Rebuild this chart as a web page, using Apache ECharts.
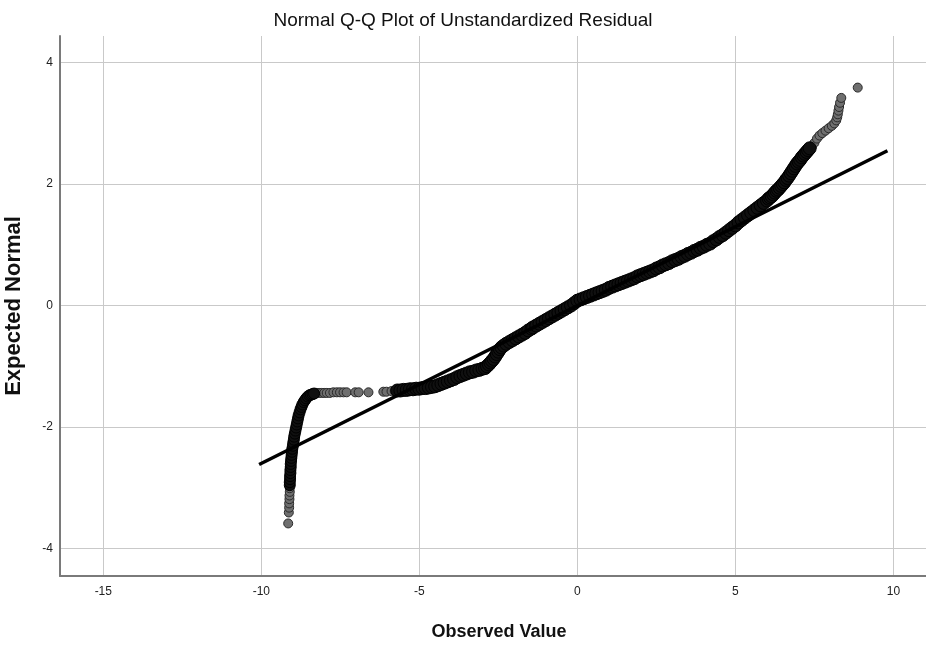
<!DOCTYPE html>
<html>
<head>
<meta charset="utf-8">
<script src="https://cdn.jsdelivr.net/npm/echarts/dist/echarts.min.js"></script>
<style>
html,body{margin:0;padding:0;background:#fff;}
#chart{width:926px;height:646px;}
</style>
</head>
<body>
<div id="chart"></div>
<script>
// ---- Data ----
const titleText = 'Normal Q-Q Plot of Unstandardized Residual';
const xAxisName = 'Observed Value';
const yAxisName = 'Expected Normal';
const xTicks = [-15, -10, -5, 0, 5, 10];
const yTicks = [-4, -2, 0, 2, 4];

// sparse (individually visible) points, lower tail
const tailLow = [
  [-9.15,-3.59],[-9.13,-3.41],[-9.12,-3.33],[-9.12,-3.26],[-9.11,-3.19],
  [-9.11,-3.13],[-9.10,-3.07],[-9.10,-3.01]
];
// dense steep column at the lower end
const denseLow = [
  [-9.10,-2.96],[-9.10,-2.91],[-9.09,-2.86],[-9.09,-2.81],[-9.08,-2.76],[-9.08,-2.71],
  [-9.07,-2.66],[-9.07,-2.61],[-9.06,-2.56],[-9.05,-2.51],[-9.04,-2.46],[-9.03,-2.41],
  [-9.02,-2.36],[-9.00,-2.31],[-8.99,-2.26],[-8.97,-2.21],[-8.96,-2.16],[-8.94,-2.11],
  [-8.92,-2.06],[-8.90,-2.01],[-8.88,-1.96],[-8.86,-1.91],[-8.84,-1.86],[-8.82,-1.81],
  [-8.79,-1.76],[-8.76,-1.71],[-8.73,-1.67],[-8.70,-1.63],[-8.66,-1.59],[-8.62,-1.56],
  [-8.58,-1.53],[-8.53,-1.50],[-8.48,-1.48],[-8.43,-1.47],[-8.38,-1.46],[-8.33,-1.45]
];
// sparse flat stretch
const flatSparse = [
  [-8.25,-1.44],[-8.17,-1.44],[-8.09,-1.44],[-8.01,-1.44],[-7.93,-1.44],[-7.83,-1.44],
  [-7.72,-1.43],[-7.61,-1.43],[-7.51,-1.43],[-7.40,-1.43],[-7.30,-1.43],[-7.03,-1.43],
  [-6.92,-1.43],[-6.61,-1.43],[-6.14,-1.42],[-6.04,-1.42],[-5.88,-1.41],[-5.78,-1.41]
];
// dense main band
const denseMain = [
  [-5.70,-1.40],[-5.60,-1.40],[-5.50,-1.39],[-5.40,-1.39],[-5.30,-1.38],[-5.20,-1.38],
  [-5.10,-1.37],[-5.00,-1.37],[-4.90,-1.36],[-4.80,-1.36],[-4.70,-1.35],[-4.60,-1.34],
  [-4.50,-1.33],[-4.40,-1.31],[-4.30,-1.29],[-4.20,-1.27],[-4.10,-1.25],[-4.00,-1.23],
  [-3.90,-1.21],[-3.80,-1.18],[-3.70,-1.16],[-3.60,-1.14],[-3.50,-1.12],[-3.40,-1.10],
  [-3.30,-1.09],[-3.20,-1.07],[-3.10,-1.06],[-3.00,-1.04],[-2.92,-1.03],[-2.86,-1.00],
  [-2.80,-0.97],[-2.75,-0.94],[-2.70,-0.91],[-2.65,-0.88],[-2.60,-0.84],[-2.55,-0.80],
  [-2.50,-0.76],[-2.45,-0.72],[-2.40,-0.69],[-2.33,-0.66],[-2.25,-0.63],[-2.15,-0.60],
  [-2.05,-0.57],[-1.95,-0.54],[-1.85,-0.51],[-1.75,-0.48],[-1.65,-0.45],[-1.55,-0.41],
  [-1.45,-0.38],[-1.40,-0.36],[-1.30,-0.33],[-1.20,-0.30],[-1.10,-0.27],[-1.00,-0.24],
  [-0.90,-0.21],[-0.80,-0.18],[-0.70,-0.15],[-0.60,-0.12],[-0.50,-0.09],[-0.40,-0.06],
  [-0.30,-0.03],[-0.20,0.00],[-0.10,0.04],[0.00,0.08],[0.10,0.10],[0.20,0.12],
  [0.30,0.14],[0.40,0.16],[0.50,0.18],[0.60,0.20],[0.70,0.22],[0.80,0.24],
  [0.90,0.26],[1.00,0.29],[1.10,0.31],[1.20,0.33],[1.30,0.35],[1.40,0.37],
  [1.50,0.39],[1.60,0.41],[1.70,0.43],[1.80,0.45],[1.90,0.48],[2.00,0.50],
  [2.10,0.52],[2.20,0.54],[2.30,0.56],[2.40,0.58],[2.50,0.61],[2.60,0.63],
  [2.70,0.66],[2.80,0.68],[2.90,0.70],[3.00,0.73],[3.10,0.75],[3.20,0.77],
  [3.30,0.80],[3.40,0.82],[3.50,0.85],[3.60,0.87],[3.70,0.90],[3.80,0.92],
  [3.90,0.95],[4.00,0.97],[4.10,1.00],[4.20,1.02],[4.30,1.06],[4.40,1.09],
  [4.50,1.13],[4.60,1.16],[4.70,1.20],[4.80,1.24],[4.90,1.28],[5.00,1.32],
  [5.10,1.37],[5.20,1.41],[5.30,1.45],[5.40,1.49],[5.50,1.53],[5.60,1.57],
  [5.70,1.61],[5.80,1.65],[5.90,1.69],[6.00,1.73],[6.05,1.76],[6.10,1.78],
  [6.15,1.80],[6.20,1.83],[6.25,1.86],[6.30,1.89],[6.35,1.91],[6.40,1.94],
  [6.45,1.97],[6.50,2.00],[6.55,2.03],[6.60,2.07],[6.65,2.10],[6.70,2.14],
  [6.75,2.18],[6.80,2.22],[6.85,2.26],[6.90,2.30],[6.95,2.34],[7.00,2.37],
  [7.05,2.40],[7.10,2.44],[7.15,2.47],[7.20,2.50],[7.25,2.53],[7.30,2.56],[7.35,2.59]
];
// sparse upper tail
const tailHigh = [
  [7.42,2.62],[7.50,2.68],[7.58,2.75],[7.66,2.80],[7.75,2.84],[7.85,2.88],
  [7.95,2.92],[8.05,2.96],[8.13,3.00],[8.19,3.05],[8.22,3.10],[8.24,3.15],
  [8.26,3.21],[8.28,3.27],[8.31,3.34],[8.35,3.42],[8.87,3.59]
];
// reference (normal) line end points
const refLine = [[-10.07,-2.62],[9.81,2.55]];

// ---- Chart ----
const chart = echarts.init(document.getElementById('chart'), null, {renderer:'canvas'});
const font = 'Liberation Sans, Arial, Helvetica, sans-serif';
const sparseStyle = {color:'#6f6f6f', borderColor:'#2a2a2a', borderWidth:1, opacity:1};
const denseStyle = {color:'#101010', borderColor:'#000', borderWidth:1, opacity:1};

chart.setOption({
  animation:false,
  backgroundColor:'#fff',
  title:{
    text:titleText, left:'center', top:6,
    textStyle:{fontFamily:font, fontSize:19, fontWeight:'normal', color:'#111'}
  },
  grid:{left:60, right:0, top:36, bottom:70, containLabel:false, outerBoundsMode:'none'},
  xAxis:{
    type:'value', min:-16.37, max:11.03,
    name:xAxisName, nameLocation:'middle', nameGap:47,
    nameTextStyle:{fontFamily:font, fontSize:18, fontWeight:'bold', color:'#111', padding:[0,0,0,12]},
    axisLine:{show:true, onZero:false, lineStyle:{color:'#7a7a7a', width:2}},
    axisTick:{show:false, customValues:xTicks},
    axisLabel:{customValues:xTicks, margin:10, fontFamily:font, fontSize:12, color:'#222'},
    splitLine:{show:true, lineStyle:{color:'#c9c9c9', width:1}}
  },
  yAxis:{
    type:'value', min:-4.456, max:4.44,
    name:yAxisName, nameLocation:'middle', nameGap:35,
    nameTextStyle:{fontFamily:font, fontSize:22, fontWeight:'bold', color:'#111'},
    axisLine:{show:true, onZero:false, lineStyle:{color:'#7a7a7a', width:2}},
    axisTick:{show:false, customValues:yTicks},
    axisLabel:{customValues:yTicks, margin:7, fontFamily:font, fontSize:12, color:'#222'},
    splitLine:{show:true, lineStyle:{color:'#c9c9c9', width:1}}
  },
  series:[
    {type:'scatter', data:tailLow, symbolSize:9, itemStyle:sparseStyle, silent:true},
    {type:'scatter', data:flatSparse, symbolSize:9, itemStyle:sparseStyle, silent:true},
    {type:'scatter', data:tailHigh, symbolSize:9, itemStyle:sparseStyle, silent:true},
    {type:'scatter', data:denseLow, symbolSize:11, itemStyle:denseStyle, silent:true},
    {type:'scatter', data:denseMain, symbolSize:13, itemStyle:denseStyle, silent:true},
    {type:'line', data:refLine, showSymbol:false, symbol:'none', silent:true,
     lineStyle:{color:'#000', width:3.5}, z:5}
  ]
});
</script>
</body>
</html>
